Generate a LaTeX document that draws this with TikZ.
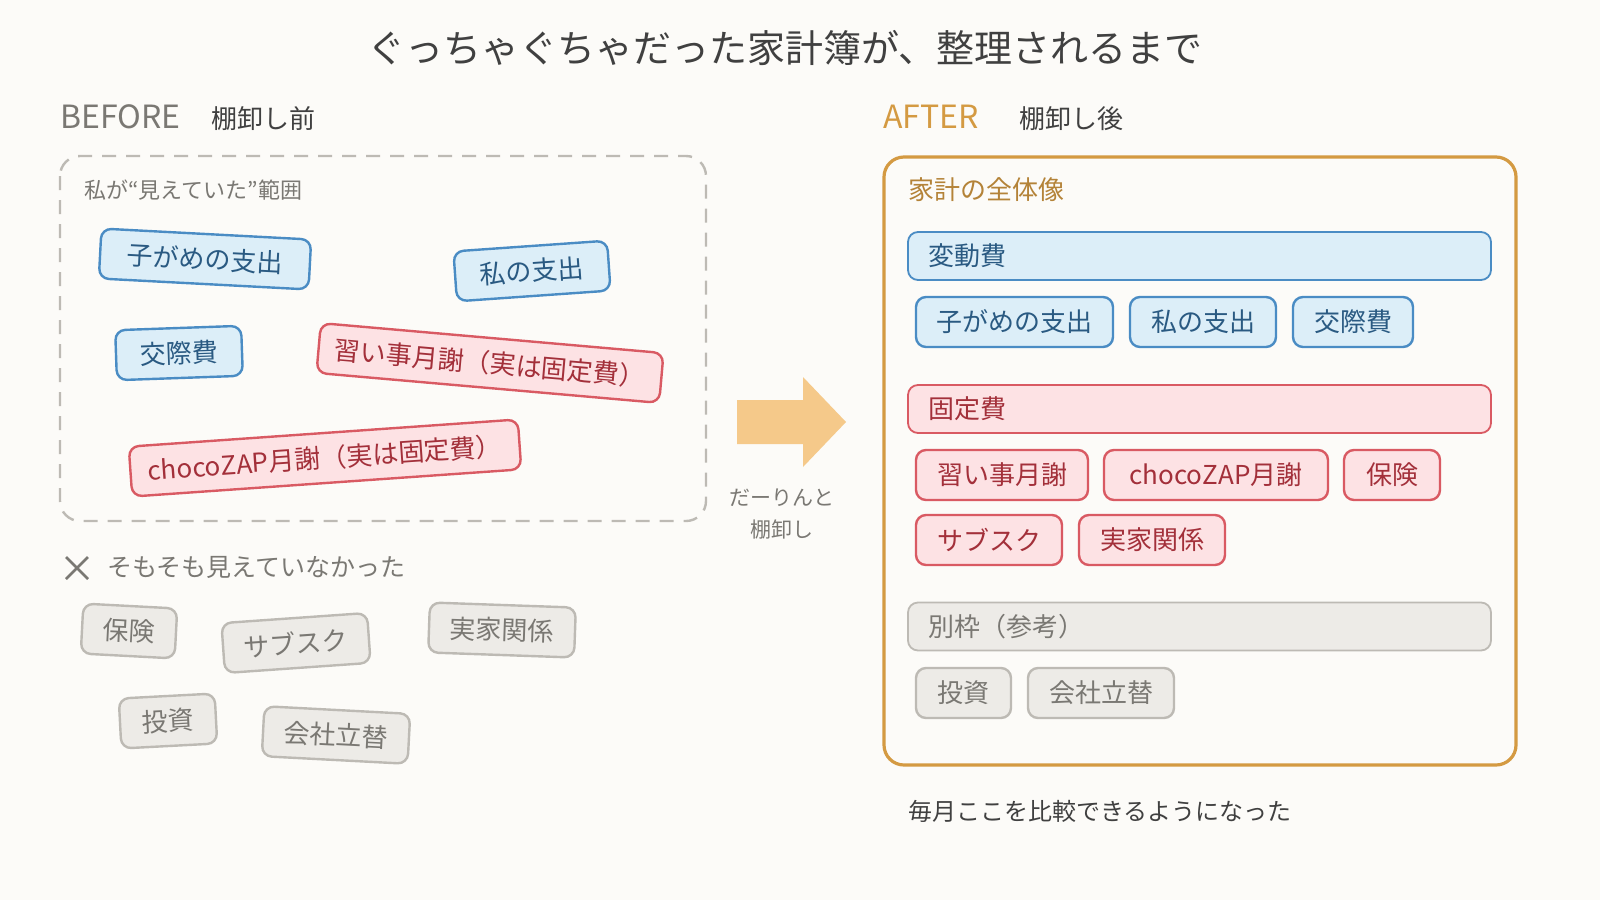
\documentclass[tikz,border=0pt]{standalone}
\usepackage{fontspec}
\setmainfont{Noto Sans CJK JP}
\definecolor{fond}{HTML}{FCFBF8}
\definecolor{bleuF}{HTML}{DCEEF8}
\definecolor{bleuB}{HTML}{4A8CC4}
\definecolor{bleuT}{HTML}{2A5A82}
\definecolor{rougeF}{HTML}{FDE2E4}
\definecolor{rougeB}{HTML}{D95A63}
\definecolor{rougeT}{HTML}{A3303A}
\definecolor{grisF}{HTML}{EDEBE7}
\definecolor{grisB}{HTML}{BDBAB4}
\definecolor{grisT}{HTML}{7A7873}
\definecolor{orange}{HTML}{D49A42}
\definecolor{fleche}{HTML}{F5C98A}
\tikzset{
  tag/.style={draw, rounded corners=5pt, line width=1.2pt, minimum height=25pt, inner xsep=8pt, font=\fontsize{13}{14}\selectfont},
  bleu/.style={tag, fill=bleuF, draw=bleuB, text=bleuT},
  rouge/.style={tag, fill=rougeF, draw=rougeB, text=rougeT},
  gris/.style={tag, fill=grisF, draw=grisB, text=grisT},
  barre/.style={draw, rounded corners=5pt, line width=0.9pt, minimum height=24pt, minimum width=291.5pt, text width=271.5pt, align=left, inner xsep=10pt, font=\fontsize{13}{14}\selectfont},
}
\begin{document}
\begin{tikzpicture}[x=0.5pt, y=-0.5pt]
  \fill[fond] (0,0) rectangle (1600,900);
  \useasboundingbox (0,0) rectangle (1600,900);
  %titre
  \node[font=\fontsize{19}{20}\selectfont, text=black!75] (titre) at (785,48) {ぐっちゃぐちゃだった家計簿が、整理されるまで};
  \node[anchor=west, font=\fontsize{16}{17}\selectfont, text=grisT, inner sep=0] (before) at (60,117) {BEFORE};
  \node[anchor=west, font=\fontsize{13}{14}\selectfont, text=black!75, inner sep=0] (beforeT) at (211,119) {棚卸し前};
  \node[anchor=west, font=\fontsize{16}{17}\selectfont, text=orange, inner sep=0] (after) at (883,117) {AFTER};
  \node[anchor=west, font=\fontsize{13}{14}\selectfont, text=black!75, inner sep=0] (afterT) at (1019,119) {棚卸し後};
  %avant
  \draw[grisB, line width=1.2pt, dash pattern=on 7pt off 5pt, rounded corners=10pt] (60,156) rectangle (706,521);
  \node[anchor=west, font=\fontsize{11}{12}\selectfont, text=grisT, inner sep=0] (vu) at (84,190) {私が“見えていた”範囲};
  \node[bleu, rotate=-3, minimum width=105pt] (kogame) at (205,259) {子がめの支出};
  \node[bleu, rotate=4, minimum width=77pt] (watashi) at (532,271) {私の支出};
  \node[bleu, rotate=2, minimum width=63pt] (kosai) at (179,353) {交際費};
  \node[rouge, rotate=-5, minimum width=168pt] (naraigoto) at (490,363) {習い事月謝（実は固定費）};
  \node[rouge, rotate=4, minimum width=195pt] (choco) at (325,458) {chocoZAP月謝（実は固定費）};
  \draw[grisT, line width=1.3pt] (66,557) -- (88,579) (88,557) -- (66,579);
  \node[anchor=west, font=\fontsize{12.5}{13}\selectfont, text=grisT, inner sep=0] (pasvu) at (107,567) {そもそも見えていなかった};
  \node[gris, rotate=-3, minimum width=47pt] (hoken) at (129,631) {保険};
  \node[gris, rotate=4, minimum width=73pt] (sabu) at (296,643) {サブスク};
  \node[gris, rotate=-2, minimum width=73pt] (jikka) at (502,630) {実家関係};
  \node[gris, rotate=3, minimum width=48pt] (toushi) at (168,721) {投資};
  \node[gris, rotate=-3, minimum width=73pt] (kaisha) at (336,735) {会社立替};
  %fleche
  \fill[fleche] (737,400) -- (803,400) -- (803,377) -- (846,422) -- (803,467) -- (803,444) -- (737,444) -- cycle;
  \node[align=center, font=\fontsize{10.5}{16}\selectfont, text=grisT] (darin) at (782,514) {だーりんと\\棚卸し};
  %apres
  \draw[orange, line width=1.6pt, rounded corners=10pt] (884,157) rectangle (1516,765);
  \node[anchor=west, font=\fontsize{13}{14}\selectfont, text=orange!85!black, inner sep=0] (zentai) at (908,190) {家計の全体像};
  \node[barre, fill=bleuF, draw=bleuB, text=bleuT] (hendo) at (1199.5,256) {変動費};
  \node[bleu, minimum width=98.5pt] (kogame2) at (1014.5,322) {子がめの支出};
  \node[bleu, minimum width=73pt] (watashi2) at (1203,322) {私の支出};
  \node[bleu, minimum width=60pt] (kosai2) at (1353,322) {交際費};
  \node[barre, fill=rougeF, draw=rougeB, text=rougeT] (kotei) at (1199.5,409) {固定費};
  \node[rouge, minimum width=86pt] (naraigoto2) at (1002,475) {習い事月謝};
  \node[rouge, minimum width=112pt] (choco2) at (1216,475) {chocoZAP月謝};
  \node[rouge, minimum width=48pt] (hoken2) at (1392,475) {保険};
  \node[rouge, minimum width=73pt] (sabu2) at (989,540) {サブスク};
  \node[rouge, minimum width=73pt] (jikka2) at (1152,540) {実家関係};
  \node[barre, fill=grisF, draw=grisB, text=grisT] (betsu) at (1199.5,626.5) {別枠（参考）};
  \node[gris, minimum width=47.5pt] (toushi2) at (963.5,693) {投資};
  \node[gris, minimum width=73pt] (kaisha2) at (1101,693) {会社立替};
  \node[anchor=west, font=\fontsize{12}{13}\selectfont, text=black!75, inner sep=0] (maitsuki) at (908,811) {毎月ここを比較できるようになった};
\end{tikzpicture}
\end{document}
